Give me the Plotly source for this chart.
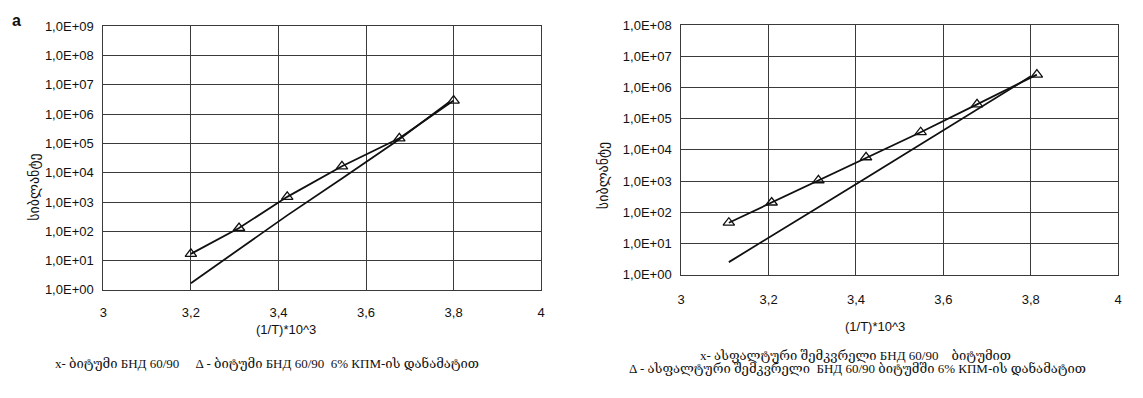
import plotly.graph_objects as go

# Left chart data
left_tri_x = [3.20, 3.31, 3.42, 3.545, 3.676, 3.80]
left_tri_y = [17, 130, 1500, 16600, 150000, 2.9e6]
left_line_x = [3.20, 3.31, 3.42, 3.545, 3.676, 3.79]
left_line_y = [1.7, 25, 350, 6300, 1.4e5, 2.6e6]

# Right chart data
right_tri_x = [3.109, 3.207, 3.314, 3.423, 3.548, 3.677, 3.814]
right_tri_y = [46, 205, 1060, 5800, 37000, 290000, 2.6e6]
right_line_x = [3.109, 3.207, 3.314, 3.423, 3.548, 3.677, 3.80]
right_line_y = [2.5, 17, 145, 1250, 15000, 190000, 2.3e6]

x_ticks = [3, 3.2, 3.4, 3.6, 3.8, 4]
x_ticktext = ["3", "3,2", "3,4", "3,6", "3,8", "4"]
y_ticks_left = [10 ** i for i in range(0, 10)]
y_ticktext_left = ["1,0E+%02d" % i for i in range(0, 10)]
y_ticks_right = [10 ** i for i in range(0, 9)]
y_ticktext_right = ["1,0E+%02d" % i for i in range(0, 9)]

y_title = "სიბლანტე"
x_title = "(1/T)*10^3"
cap_left = "x- ბიტუმი БНД 60/90     Δ - ბიტუმი БНД 60/90  6% КПМ-ის დანამატით"
cap_right1 = "x- ასფალტური შემკვრელი БНД 60/90    ბიტუმით"
cap_right2 = "Δ - ასფალტური შემკვრელი  БНД 60/90 ბიტუმში 6% КПМ-ის დანამატით"

W, H = 1143, 398
tickfont = dict(family="Liberation Sans, Arial, sans-serif", size=13, color="#111")
serif = "Liberation Serif, DejaVu Serif, serif"
gridc = "#3a3a3a"

fig = go.Figure()
line_style = dict(color="#111", width=1.8)
marker_style = dict(symbol="triangle-up-open", size=10, color="#111", line=dict(width=1.3, color="#111"))

fig.add_trace(go.Scatter(x=left_line_x, y=left_line_y, mode="lines", line=line_style,
                         xaxis="x", yaxis="y", showlegend=False))
fig.add_trace(go.Scatter(x=left_tri_x, y=left_tri_y, mode="lines+markers", line=line_style,
                         marker=marker_style, xaxis="x", yaxis="y", showlegend=False))
fig.add_trace(go.Scatter(x=right_line_x, y=right_line_y, mode="lines", line=line_style,
                         xaxis="x2", yaxis="y2", showlegend=False))
fig.add_trace(go.Scatter(x=right_tri_x, y=right_tri_y, mode="lines+markers", line=line_style,
                         marker=marker_style, xaxis="x2", yaxis="y2", showlegend=False))

def xax(domain, anchor, ticklen):
    return dict(domain=domain, anchor=anchor, range=[3, 4], tickvals=x_ticks, ticktext=x_ticktext,
                showgrid=True, gridcolor=gridc, gridwidth=1, zeroline=False,
                showline=True, linecolor=gridc, linewidth=1, mirror=True,
                ticks="outside", ticklen=ticklen, tickcolor="rgba(0,0,0,0)", tickfont=tickfont)

def yax(domain, anchor, rng, vals, text):
    return dict(domain=domain, anchor=anchor, type="log", range=rng, tickvals=vals, ticktext=text,
                showgrid=True, gridcolor=gridc, gridwidth=1, zeroline=False,
                showline=True, linecolor=gridc, linewidth=1, mirror=True,
                ticks="outside", ticklen=6, tickcolor="rgba(0,0,0,0)", tickfont=tickfont)

fig.update_layout(
    width=W, height=H, margin=dict(l=0, r=0, t=0, b=0),
    paper_bgcolor="white", plot_bgcolor="white",
    xaxis=xax([100 / W, 541 / W], "y", 10),
    yaxis=yax([1 - 294 / H, 1 - 20 / H], "x", [0, 9], y_ticks_left, y_ticktext_left),
    xaxis2=xax([682 / W, 1122 / W], "y2", 13),
    yaxis2=yax([1 - 278 / H, 1 - 19 / H], "x2", [0, 8], y_ticks_right, y_ticktext_right),
)

ann = []
def add(text, x, y, size, family, angle=0, bold=False):
    ann.append(dict(text=("<b>%s</b>" % text) if bold else text, x=x / W, y=1 - y / H,
                    xref="paper", yref="paper", showarrow=False, textangle=angle,
                    xanchor="center", yanchor="middle",
                    font=dict(size=size, family=family, color="#111")))

add("a", 13, 14, 16, "Liberation Sans, Arial, sans-serif", bold=True)
add(y_title, 30, 187, 14, "DejaVu Sans, sans-serif", angle=-90)
add(y_title, 604, 175, 14, "DejaVu Sans, sans-serif", angle=-90)
add(x_title, 284, 335, 13, "Liberation Sans, Arial, sans-serif")
add(x_title, 877, 332, 13, "Liberation Sans, Arial, sans-serif")
add(cap_left, 265, 370, 13, serif)
add(cap_right1, 857, 362, 13, serif)
add(cap_right2, 860, 376, 13, serif)
fig.update_layout(annotations=ann)

fig.write_html("out.html")
